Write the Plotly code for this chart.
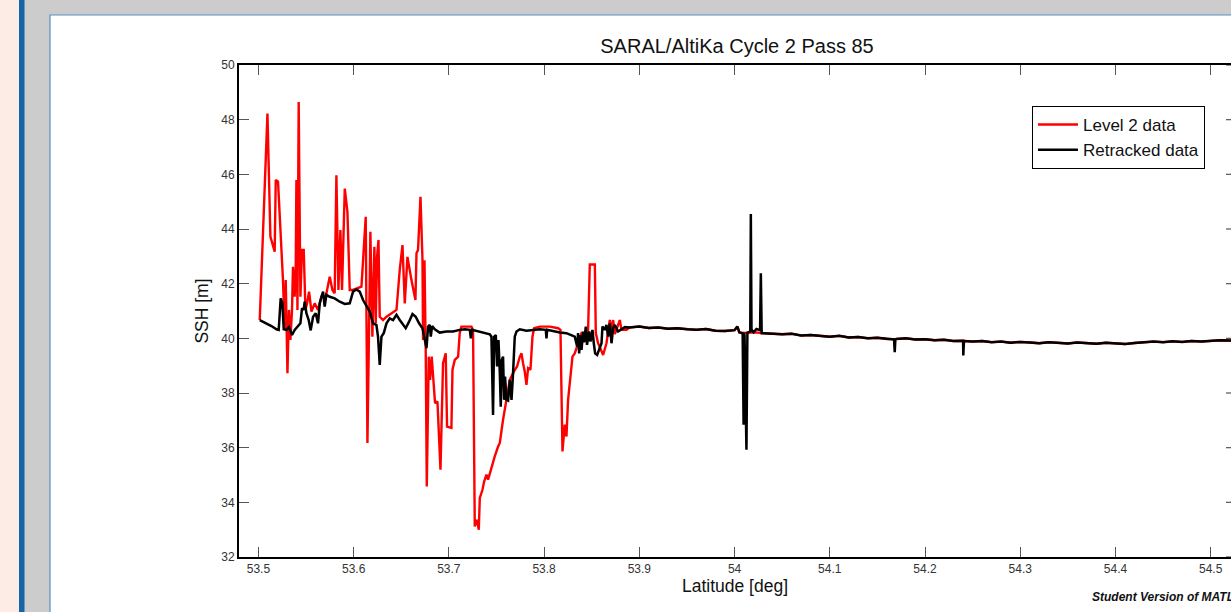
import plotly.graph_objects as go

# ---------------- data ----------------
# Level 2 data (noisy coastal part)
lat_l2_head = [53.5014, 53.5095, 53.5126, 53.5171, 53.5182, 53.5206, 53.5258, 53.5276, 53.5287, 53.5305,
               53.5321, 53.5336, 53.5353, 53.5363, 53.5381, 53.5392, 53.5399, 53.5410, 53.5423, 53.5441,
               53.5458, 53.5476, 53.5494, 53.5511, 53.5532, 53.5557, 53.5591, 53.5626, 53.5662, 53.5707,
               53.5749, 53.5777, 53.5801, 53.5819, 53.5840, 53.5861, 53.5878, 53.5907, 53.5935, 53.5959,
               53.5994, 53.6046, 53.6082, 53.6127, 53.6145, 53.6176, 53.6197, 53.6218, 53.6232, 53.6246,
               53.6261, 53.6274, 53.6309, 53.6345, 53.6397, 53.6450, 53.6484, 53.6513, 53.6537, 53.6565,
               53.6607, 53.6649, 53.6660, 53.6676, 53.6702, 53.6723, 53.6729, 53.6744, 53.6757, 53.6768,
               53.6789, 53.6803, 53.6820, 53.6841, 53.6855, 53.6880, 53.6912, 53.6939, 53.6967, 53.6981,
               53.7027, 53.7038, 53.7062, 53.7097, 53.7114, 53.7132, 53.7185, 53.7237, 53.7254, 53.7272,
               53.7296, 53.7314, 53.7325, 53.7353, 53.7370, 53.7395, 53.7412, 53.7447, 53.7482, 53.7517,
               53.7535, 53.7569, 53.7605, 53.7640, 53.7682, 53.7716, 53.7745, 53.7763, 53.7779, 53.7797,
               53.7815, 53.7832, 53.7857, 53.7878, 53.7895, 53.7955, 53.8061, 53.8147, 53.8172, 53.8193,
               53.8217, 53.8235, 53.8252, 53.8270, 53.8298, 53.8322, 53.8357, 53.8393, 53.8445, 53.8462,
               53.8480, 53.8533, 53.8543, 53.8567, 53.8620, 53.8655, 53.8690, 53.8708, 53.8725, 53.8743,
               53.8795, 53.8813, 53.8866]
ssh_l2_head = [40.67, 48.22, 43.72, 43.17, 45.79, 45.73, 42.13, 40.31, 42.13, 38.72,
               41.04, 39.94, 41.04, 42.62, 41.52, 42.62, 45.79, 41.04, 48.65, 41.52,
               43.23, 43.23, 41.04, 41.28, 41.71, 40.98, 41.28, 41.04, 41.52, 41.52,
               42.25, 41.77, 41.65, 45.97, 41.77, 43.96, 41.77, 45.48, 44.63, 41.77,
               41.77, 41.83, 41.89, 44.45, 36.17, 43.90, 40.06, 43.35, 40.55, 42.98,
               43.60, 40.79, 40.67, 40.79, 40.92, 41.04, 42.50, 43.41, 41.28, 42.98,
               42.13, 41.40, 43.11, 43.23, 45.18, 42.86, 39.94, 42.86, 39.58, 34.58,
               39.33, 38.48, 39.33, 38.48, 37.63, 37.69, 35.19, 39.09, 39.45, 36.77,
               36.72, 38.85, 39.21, 39.33, 40.19, 40.43, 40.43, 40.43, 40.31, 33.12,
               33.36, 33.00, 34.16, 34.46, 34.76, 35.01, 34.83, 35.31, 35.68, 36.04,
               36.17, 37.02, 37.75, 38.48, 38.78, 38.97, 39.33, 39.45, 39.09, 38.78,
               38.30, 38.91, 38.85, 40.06, 40.37, 40.43, 40.43, 40.37, 40.31, 35.86,
               36.84, 36.41, 37.75, 38.36, 39.33, 39.45, 39.82, 40.19, 40.06, 40.31,
               42.70, 42.70, 40.19, 39.82, 39.39, 39.82, 40.67, 40.31, 40.67, 40.15,
               40.67, 40.31, 40.31]

# Retracked data (noisy coastal part)
lat_rt_head = [53.5014, 53.5084, 53.5137, 53.5189, 53.5213, 53.5234, 53.5252, 53.5266, 53.5294, 53.5321,
               53.5336, 53.5353, 53.5381, 53.5416, 53.5441, 53.5458, 53.5476, 53.5486, 53.5504, 53.5528,
               53.5549, 53.5574, 53.5602, 53.5626, 53.5644, 53.5662, 53.5679, 53.5696, 53.5714, 53.5749,
               53.5801, 53.5854, 53.5907, 53.5959, 53.5994, 53.6029, 53.6064, 53.6099, 53.6134, 53.6169,
               53.6204, 53.6239, 53.6256, 53.6274, 53.6292, 53.6316, 53.6345, 53.6379, 53.6414, 53.6450,
               53.6484, 53.6519, 53.6547, 53.6582, 53.6618, 53.6652, 53.6687, 53.6723, 53.6747, 53.6765,
               53.6782, 53.6799, 53.6810, 53.6824, 53.6852, 53.6904, 53.6975, 53.7044, 53.7114, 53.7167,
               53.7220, 53.7231, 53.7244, 53.7307, 53.7359, 53.7430, 53.7447, 53.7464, 53.7475, 53.7493,
               53.7506, 53.7521, 53.7535, 53.7545, 53.7556, 53.7569, 53.7580, 53.7590, 53.7605, 53.7622,
               53.7640, 53.7658, 53.7674, 53.7692, 53.7710, 53.7745, 53.7815, 53.7884, 53.7955, 53.8018,
               53.8025, 53.8032, 53.8095, 53.8165, 53.8235, 53.8288, 53.8322, 53.8347, 53.8357, 53.8368,
               53.8382, 53.8393, 53.8410, 53.8420, 53.8438, 53.8451, 53.8473, 53.8487, 53.8508, 53.8522,
               53.8536, 53.8557, 53.8578, 53.8603, 53.8613, 53.8638, 53.8655, 53.8672, 53.8690, 53.8708,
               53.8725, 53.8743, 53.8777, 53.8813, 53.8848]
ssh_rt_head = [40.67, 40.55, 40.45, 40.33, 40.31, 41.46, 41.28, 40.33, 40.31, 40.41,
               40.25, 40.12, 40.31, 40.43, 40.55, 41.10, 41.04, 41.34, 40.92, 40.67,
               40.29, 40.79, 40.92, 40.55, 41.28, 41.52, 41.71, 41.16, 41.59, 41.52,
               41.46, 41.34, 41.26, 41.28, 41.71, 41.79, 41.71, 41.40, 41.16, 40.98,
               40.55, 40.49, 40.06, 39.03, 40.06, 40.19, 40.55, 40.73, 40.67, 40.86,
               40.67, 40.49, 40.37, 40.61, 40.89, 40.79, 40.55, 40.37, 40.00, 39.64,
               40.43, 40.49, 40.06, 40.45, 40.33, 40.21, 40.25, 40.25, 40.31, 40.33,
               40.31, 40.00, 40.31, 40.25, 40.19, 40.15, 40.06, 37.20, 40.06, 40.12,
               38.97, 39.94, 38.72, 37.50, 39.21, 39.33, 37.75, 38.60, 37.75, 37.72,
               38.48, 37.75, 38.72, 40.06, 40.25, 40.33, 40.28, 40.31, 40.33, 40.31,
               40.00, 40.31, 40.25, 40.21, 40.19, 40.12, 40.06, 39.70, 40.19, 39.45,
               40.12, 39.58, 40.25, 39.85, 40.43, 39.76, 40.25, 39.88, 40.31, 39.82,
               39.45, 39.39, 39.58, 39.82, 40.43, 40.31, 40.49, 40.06, 40.55, 39.82,
               40.37, 40.49, 40.25, 40.33, 40.41]

# Open-ocean part shared by both series
lat_tail = [53.890, 53.900, 53.910, 53.920, 53.930, 53.940, 53.950, 53.960, 53.970, 53.980,
            53.990, 54.000, 54.003, 54.005, 54.010, 54.020, 54.030, 54.040, 54.050, 54.060,
            54.070, 54.080, 54.090, 54.100, 54.110, 54.120, 54.130, 54.140, 54.150, 54.160,
            54.170, 54.180, 54.190, 54.200, 54.210, 54.220, 54.230, 54.240, 54.250, 54.260,
            54.270, 54.280, 54.290, 54.300, 54.310, 54.320, 54.330, 54.340, 54.350, 54.360,
            54.370, 54.380, 54.390, 54.400, 54.410, 54.420, 54.430, 54.440, 54.450, 54.460,
            54.470, 54.480, 54.490, 54.500, 54.510, 54.520, 54.530]
ssh_tail = [40.40, 40.43, 40.38, 40.40, 40.35, 40.37, 40.33, 40.31, 40.34, 40.28,
            40.27, 40.30, 40.43, 40.22, 40.20, 40.22, 40.19, 40.16, 40.15, 40.17,
            40.10, 40.12, 40.08, 40.06, 40.09, 40.03, 40.05, 40.00, 40.02, 39.97,
            39.98, 40.00, 39.96, 39.97, 39.93, 39.95, 39.90, 39.91, 39.88, 39.90,
            39.86, 39.88, 39.84, 39.87, 39.85, 39.82, 39.86, 39.84, 39.81, 39.85,
            39.83, 39.80, 39.84, 39.81, 39.79, 39.83, 39.85, 39.88, 39.86, 39.89,
            39.87, 39.90, 39.88, 39.91, 39.93, 39.92, 39.95]

# Spikes present only in the retracked series
lat_rt_spikes = [54.0085, 54.0095, 54.0105, 54.0125, 54.0135, 54.0165, 54.0171, 54.0178, 54.0230,
                 54.0268, 54.0276, 54.0285, 54.1675, 54.1682, 54.1689, 54.2395, 54.2402, 54.2409]
ssh_rt_spikes = [40.18, 36.84, 40.10, 35.92, 40.20, 40.25, 44.55, 40.32, 40.34,
                 40.30, 42.38, 40.19, 39.96, 39.49, 39.97, 39.90, 39.37, 39.90]

x_ticks = [53.5, 53.6, 53.7, 53.8, 53.9, 54.0, 54.1, 54.2, 54.3, 54.4, 54.5]
x_tick_text = ["53.5", "53.6", "53.7", "53.8", "53.9", "54", "54.1", "54.2", "54.3", "54.4", "54.5"]
y_ticks = [32, 34, 36, 38, 40, 42, 44, 46, 48, 50]

# ---------------- assemble series ----------------
lat_l2 = lat_l2_head + lat_tail
ssh_l2 = ssh_l2_head + ssh_tail
merged = sorted(zip(lat_tail + lat_rt_spikes, ssh_tail + ssh_rt_spikes))
lat_rt = lat_rt_head + [m[0] for m in merged]
ssh_rt = ssh_rt_head + [m[1] for m in merged]

# ---------------- layout geometry ----------------
W, H = 1231, 612
ML, MR, MT, MB = 239, 0, 65, 55
PW, PH = W - ML - MR, H - MT - MB


def px_x(px):
    return (px - ML) / PW


def px_y(py):
    return (H - MB - py) / PH


FONT = "Liberation Sans, Arial, Helvetica, sans-serif"

fig = go.Figure()
fig.add_trace(go.Scatter(x=lat_l2, y=ssh_l2, mode="lines", name="Level 2 data",
                         line=dict(color="#ff0000", width=2.4)))
fig.add_trace(go.Scatter(x=lat_rt, y=ssh_rt, mode="lines", name="Retracked data",
                         line=dict(color="#000000", width=2.5)))

shapes = [
    dict(type="rect", xref="paper", yref="paper", x0=px_x(0), x1=px_x(19), y0=px_y(612), y1=px_y(0),
         fillcolor="#fdece6", line=dict(width=0), layer="below"),
    dict(type="rect", xref="paper", yref="paper", x0=px_x(19), x1=px_x(24.5), y0=px_y(612), y1=px_y(0),
         fillcolor="#1565a8", line=dict(width=0), layer="below"),
    dict(type="rect", xref="paper", yref="paper", x0=px_x(50), x1=px_x(1240), y0=px_y(620), y1=px_y(15),
         fillcolor="#ffffff", line=dict(color="#5a8fc4", width=1.2), layer="below"),
]
for v in y_ticks:
    shapes.append(dict(type="line", xref="paper", yref="y", x0=px_x(1226), x1=1.0, y0=v, y1=v,
                       line=dict(color="#555555", width=1.2), layer="above"))

fig.update_layout(
    width=W, height=H,
    margin=dict(l=ML, r=MR, t=MT, b=MB),
    paper_bgcolor="#cccccc",
    plot_bgcolor="rgba(0,0,0,0)",
    font=dict(family=FONT, color="#222222"),
    title=dict(text="SARAL/AltiKa Cycle 2 Pass 85", x=px_x(737), xref="paper", xanchor="center",
               y=1 - 46 / H, yanchor="middle", font=dict(size=20, color="#111111")),
    showlegend=True,
    legend=dict(x=px_x(1032), y=px_y(106), xanchor="left", yanchor="top",
                bgcolor="#ffffff", bordercolor="#000000", borderwidth=1, itemwidth=40,
                font=dict(size=17, color="#111111"), tracegroupgap=0),
    shapes=shapes,
    annotations=[
        dict(text="<b><i>Student Version of MATLAB</i></b>", xref="paper", yref="paper",
             x=px_x(1090), y=px_y(597), xanchor="left", yanchor="middle", showarrow=False,
             font=dict(size=12, color="#111111")),
    ],
)

fig.update_xaxes(
    range=[53.5 - 19.4 / 952, 53.5 + (W - 258.7) / 952],
    tickvals=x_ticks, ticktext=x_tick_text,
    ticks="inside", ticklen=10, tickwidth=1.2, tickcolor="#555555",
    showline=True, linecolor="#000000", linewidth=2, mirror="ticks",
    showgrid=False, zeroline=False,
    tickfont=dict(size=12, color="#333333"),
    title=dict(text="Latitude [deg]", font=dict(size=17.5, color="#111111"), standoff=2),
)
fig.update_yaxes(
    range=[32, 50],
    tickvals=y_ticks,
    ticks="inside", ticklen=10, tickwidth=1.2, tickcolor="#555555",
    showline=True, linecolor="#000000", linewidth=2, mirror=False,
    showgrid=False, zeroline=False,
    tickfont=dict(size=12, color="#333333"),
    title=dict(text="SSH [m]", font=dict(size=17.5, color="#111111"), standoff=8),
)

fig.write_html("out.html")
